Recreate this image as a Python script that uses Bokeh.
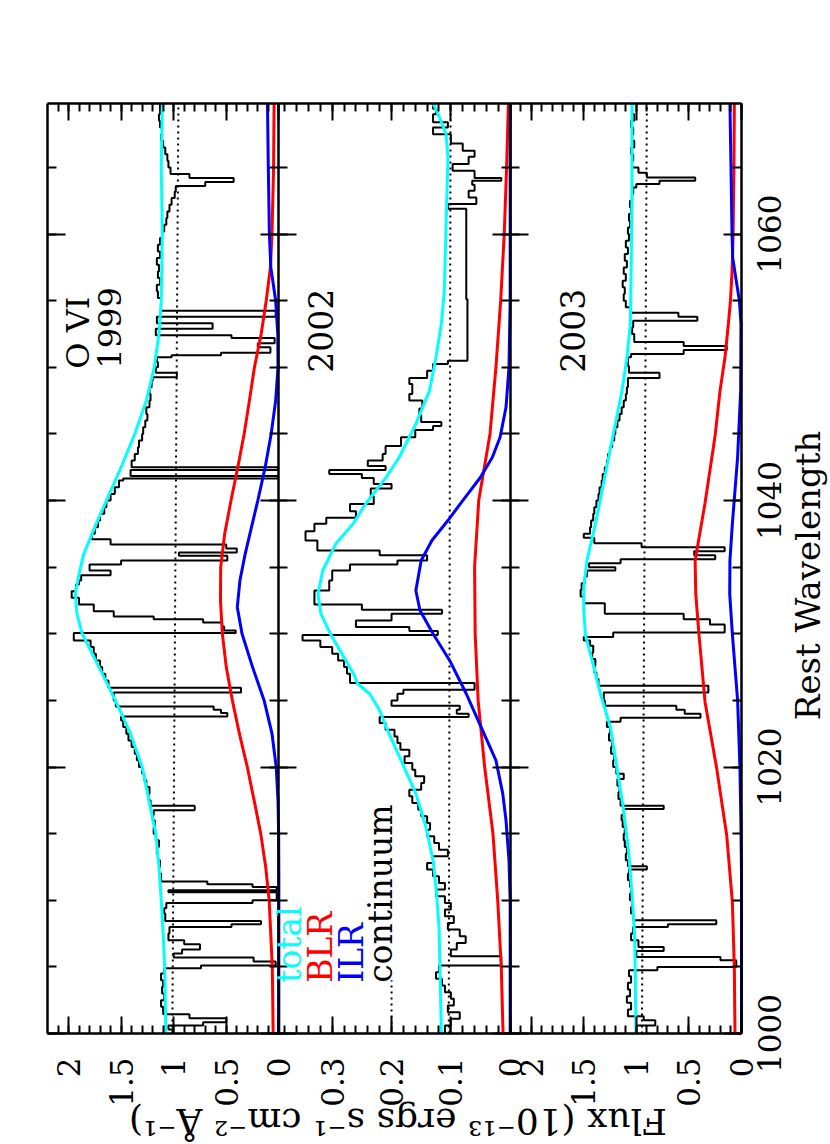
import math
import numpy as np
from bokeh.plotting import figure
from bokeh.models import Range1d, LinearAxis, FixedTicker, CustomJSTickFormatter, Label
from bokeh.core.properties import value
from bokeh.embed import file_html
from bokeh.resources import INLINE

FONT = "DejaVu Serif"

# ---------------- axis limits and ticks ----------------
WL_LO, WL_HI = 1000.0, 1069.8
FMAX_1999 = 2.2
FMAX_2002 = 0.39
FMAX_2003 = 2.2

WL_TICKS = [1000, 1020, 1040, 1060]
WL_MINOR = [1000, 1005, 1010, 1015, 1020, 1025, 1030, 1035, 1040, 1045, 1050, 1055, 1060, 1065]
F_TICKS_BIG = [0, 0.5, 1, 1.5, 2]
F_MINOR_BIG = [0, 0.1, 0.2, 0.3, 0.4, 0.5, 0.6, 0.7, 0.8, 0.9, 1.0, 1.1, 1.2, 1.3, 1.4,
               1.5, 1.6, 1.7, 1.8, 1.9, 2.0, 2.1]
F_TICKS_SMALL = [0, 0.1, 0.2, 0.3]
F_MINOR_SMALL = [0, 0.02, 0.04, 0.06, 0.08, 0.1, 0.12, 0.14, 0.16, 0.18, 0.2, 0.22, 0.24,
                 0.26, 0.28, 0.3, 0.32, 0.34, 0.36, 0.38]

# ---------------- 1999 spectrum (bin start wavelength, flux) ----------------
spec_1999_wl = [1000.0, 1000.3, 1000.6, 1000.85, 1001.15, 1001.45, 1002.0, 1002.5, 1003.0, 1003.5,
                1004.0, 1004.5, 1004.9, 1005.1, 1005.4, 1005.7, 1006.0, 1006.3, 1006.7, 1007.0,
                1007.5, 1008.0, 1008.2, 1008.45, 1009.0, 1009.4, 1009.8, 1010.0, 1010.6, 1010.75,
                1011.0, 1011.2, 1011.4, 1012.0, 1012.5, 1013.0, 1013.5, 1014.0, 1014.5, 1015.0,
                1015.5, 1016.0, 1016.4, 1016.75, 1017.1, 1017.5, 1018.0, 1018.5, 1019.0, 1019.5,
                1020.0, 1020.5, 1021.0, 1021.5, 1022.0, 1022.5, 1023.0, 1023.5, 1023.8, 1024.05,
                1024.3, 1024.55, 1025.0, 1025.6, 1025.95, 1026.5, 1027.0, 1027.5, 1028.0, 1028.5,
                1029.0, 1029.5, 1030.05, 1030.25, 1030.55, 1030.85, 1031.1, 1031.3, 1031.7, 1032.2,
                1032.7, 1033.2, 1033.7, 1034.0, 1034.4, 1034.75, 1035.2, 1035.5, 1035.85, 1036.1,
                1036.4, 1036.7, 1037.1, 1037.5, 1038.0, 1038.5, 1039.0, 1039.5, 1040.0, 1040.5,
                1041.0, 1041.5, 1041.65, 1041.85, 1042.3, 1042.5, 1043.0, 1043.5, 1044.0, 1044.5,
                1045.0, 1045.5, 1046.0, 1046.5, 1047.0, 1047.5, 1048.0, 1048.5, 1049.0, 1049.25,
                1049.6, 1050.0, 1050.4, 1050.75, 1050.9, 1051.1, 1051.5, 1051.8, 1052.2, 1052.4,
                1052.9, 1053.3, 1053.8, 1054.25, 1054.7, 1055.2, 1055.7, 1056.2, 1056.7, 1057.2,
                1057.7, 1058.2, 1058.7, 1059.2, 1059.7, 1060.2, 1060.7, 1061.2, 1061.7, 1062.2,
                1062.7, 1063.2, 1063.6, 1063.9, 1064.2, 1064.5, 1065.0, 1065.5, 1066.0, 1066.5,
                1067.0, 1067.5, 1068.0, 1068.5, 1069.0]
spec_1999_flux = [1.01, 1.05, 0.72, 0.50, 0.85, 1.10, 1.12, 1.09, 1.11, 1.10,
                  1.12, 1.09, 0.74, 0.03, 0.24, 1.00, 0.92, 0.75, 0.90, 1.05,
                  1.04, 0.45, 0.17, 1.08, 1.09, 1.07, 0.25, 0.02, 1.05, 0.02,
                  0.25, 0.68, 1.12, 1.14, 1.13, 1.15, 1.16, 1.14, 1.17, 1.19,
                  1.18, 1.20, 1.19, 0.80, 1.22, 1.24, 1.23, 1.26, 1.28, 1.30,
                  1.33, 1.35, 1.37, 1.40, 1.43, 1.45, 1.48, 1.50, 0.49, 0.55,
                  0.62, 1.55, 1.57, 0.36, 1.62, 1.65, 1.68, 1.70, 1.74, 1.76,
                  1.79, 1.95, 0.41, 0.52, 0.54, 0.72, 1.19, 1.57, 1.76, 1.90,
                  1.97, 1.93, 1.90, 1.88, 1.60, 1.80, 1.50, 0.49, 0.95, 0.40,
                  0.50, 1.60, 1.78, 1.75, 1.72, 1.70, 1.66, 1.64, 1.60, 1.56,
                  1.52, 1.48, 0.01, 1.41, 0.01, 1.40, 1.37, 1.34, 1.33, 1.30,
                  1.29, 1.27, 1.25, 1.26, 1.23, 1.22, 1.23, 1.21, 1.20, 0.97,
                  1.17, 1.15, 1.16, 1.02, 0.55, 0.08, 0.20, 0.04, 0.45, 1.17,
                  0.63, 1.16, 0.03, 1.12, 1.12, 1.15, 1.16, 1.13, 1.15, 1.14,
                  1.16, 1.13, 1.15, 1.13, 1.11, 1.09, 1.07, 1.06, 1.04, 1.02,
                  0.99, 0.98, 0.70, 0.43, 0.85, 1.03, 1.05, 1.06, 1.08, 1.10,
                  1.12, 1.11, 1.13, 1.14, 1.13]

# ---------------- 2002 spectrum ----------------
spec_2002_wl = [1000.0, 1000.6, 1001.1, 1001.6, 1002.1, 1002.6, 1003.1, 1003.6, 1004.1, 1004.6,
                1005.1, 1005.8, 1006.3, 1006.8, 1007.3, 1007.8, 1008.3, 1008.8, 1009.3, 1009.8,
                1010.3, 1010.8, 1011.3, 1011.8, 1012.3, 1012.8, 1013.3, 1013.8, 1014.3, 1014.8,
                1015.3, 1015.8, 1016.3, 1016.8, 1017.3, 1017.8, 1018.3, 1018.8, 1019.3, 1019.8,
                1020.3, 1020.8, 1021.3, 1021.8, 1022.3, 1022.8, 1023.3, 1023.75, 1024.0, 1024.3,
                1024.6, 1025.0, 1025.5, 1025.8, 1026.3, 1027.0, 1027.5, 1028.0, 1028.5, 1029.0,
                1029.5, 1029.9, 1030.2, 1030.5, 1031.0, 1031.5, 1031.8, 1032.2, 1033.25, 1034.0,
                1034.75, 1035.2, 1035.5, 1035.9, 1036.25, 1037.0, 1037.7, 1038.25, 1038.7, 1039.2,
                1039.75, 1040.3, 1040.9, 1041.25, 1041.7, 1042.0, 1042.3, 1042.6, 1043.0, 1043.5,
                1044.1, 1044.75, 1045.3, 1045.6, 1045.9, 1046.4, 1046.9, 1047.5, 1048.0, 1048.75,
                1049.2, 1049.75, 1050.25, 1050.5, 1055.1, 1061.9, 1062.25, 1062.75, 1063.25, 1063.7,
                1064.0, 1064.2, 1064.75, 1065.25, 1065.8, 1066.25, 1066.8, 1067.5, 1068.0, 1068.4,
                1069.0, 1069.4]
spec_2002_flux = [0.110, 0.100, 0.085, 0.105, 0.095, 0.100, 0.110, 0.115, 0.125, 0.120,
                  0.015, 0.100, 0.090, 0.075, 0.085, 0.105, 0.095, 0.110, 0.100, 0.110,
                  0.125, 0.110, 0.120, 0.130, 0.140, 0.130, 0.105, 0.120, 0.128, 0.140,
                  0.135, 0.140, 0.150, 0.155, 0.165, 0.170, 0.150, 0.145, 0.160, 0.165,
                  0.178, 0.170, 0.185, 0.190, 0.195, 0.210, 0.220, 0.070, 0.090, 0.085,
                  0.200, 0.190, 0.180, 0.060, 0.270, 0.275, 0.280, 0.290, 0.300, 0.320,
                  0.350, 0.122, 0.170, 0.260, 0.200, 0.115, 0.250, 0.330, 0.305, 0.300,
                  0.270, 0.190, 0.140, 0.220, 0.325, 0.345, 0.330, 0.310, 0.260, 0.270,
                  0.230, 0.235, 0.200, 0.230, 0.250, 0.305, 0.210, 0.240, 0.215, 0.210,
                  0.184, 0.160, 0.130, 0.116, 0.150, 0.153, 0.148, 0.170, 0.165, 0.170,
                  0.140, 0.130, 0.105, 0.072, 0.074, 0.105, 0.057, 0.070, 0.060, 0.064,
                  0.015, 0.060, 0.097, 0.070, 0.060, 0.080, 0.100, 0.130, 0.105, 0.130,
                  0.125, 0.130]

# ---------------- 2003 spectrum ----------------
spec_2003_wl = [1000.0, 1000.6, 1001.0, 1001.3, 1001.8, 1002.3, 1002.8, 1003.3, 1003.8, 1004.3,
                1004.75, 1005.0, 1005.5, 1005.75, 1006.2, 1006.5, 1007.0, 1007.5, 1008.0, 1008.2,
                1008.5, 1009.0, 1009.5, 1010.0, 1010.5, 1011.0, 1011.5, 1012.0, 1012.3, 1012.55,
                1013.0, 1013.5, 1014.0, 1014.5, 1015.0, 1015.5, 1016.0, 1016.4, 1016.85, 1017.1,
                1017.6, 1018.1, 1018.6, 1019.1, 1019.5, 1020.0, 1020.5, 1021.0, 1021.5, 1022.0,
                1022.5, 1023.0, 1023.4, 1023.7, 1024.0, 1024.3, 1024.6, 1025.0, 1025.6, 1026.1,
                1026.6, 1027.1, 1027.6, 1028.1, 1028.6, 1029.1, 1029.5, 1029.75, 1030.1, 1030.7,
                1031.1, 1031.5, 1032.3, 1032.8, 1033.3, 1033.8, 1034.3, 1034.75, 1035.0, 1035.3,
                1035.6, 1035.9, 1036.2, 1036.5, 1036.8, 1037.2, 1037.5, 1038.0, 1038.5, 1039.0,
                1039.5, 1040.0, 1040.5, 1041.0, 1041.5, 1042.0, 1042.5, 1043.0, 1043.5, 1044.0,
                1044.5, 1045.0, 1045.5, 1046.0, 1046.5, 1047.0, 1047.5, 1048.0, 1048.5, 1049.2,
                1049.6, 1050.1, 1050.75, 1051.0, 1051.3, 1051.6, 1051.9, 1052.5, 1053.0, 1053.5,
                1053.8, 1054.1, 1054.5, 1055.0, 1055.5, 1056.0, 1056.5, 1057.0, 1057.5, 1058.0,
                1058.5, 1059.0, 1059.5, 1060.0, 1060.5, 1061.0, 1061.5, 1062.0, 1062.5, 1063.0,
                1063.5, 1063.75, 1064.0, 1064.25, 1064.6, 1065.0, 1065.5, 1066.0, 1066.5, 1067.0,
                1067.5, 1068.0, 1068.5, 1069.0]
spec_2003_flux = [1.00, 0.82, 0.93, 1.08, 1.05, 1.09, 1.06, 1.08, 1.05, 1.07,
                  0.80, 0.05, 0.20, 1.00, 0.74, 0.98, 1.05, 1.03, 0.70, 0.24,
                  1.03, 1.05, 1.04, 1.06, 1.05, 1.06, 1.08, 1.07, 0.90, 1.08,
                  1.10, 1.09, 1.11, 1.12, 1.11, 1.13, 1.14, 1.12, 0.74, 1.15,
                  1.17, 1.16, 1.18, 1.12, 1.19, 1.22, 1.21, 1.24, 1.23, 1.26,
                  1.25, 1.28, 1.15, 0.39, 0.54, 0.62, 1.30, 1.31, 0.315, 1.36,
                  1.38, 1.40, 1.39, 1.42, 1.41, 1.44, 1.50, 1.22, 0.16, 0.30,
                  0.55, 1.30, 1.50, 1.53, 1.52, 1.49, 1.47, 1.20, 1.45, 1.15,
                  0.25, 0.45, 0.16, 0.95, 1.40, 1.50, 1.44, 1.43, 1.41, 1.40,
                  1.38, 1.36, 1.35, 1.33, 1.32, 1.30, 1.28, 1.27, 1.25, 1.23,
                  1.21, 1.20, 1.18, 1.16, 1.14, 1.12, 1.10, 1.09, 1.08, 0.78,
                  1.07, 1.08, 1.05, 0.55, 0.14, 0.55, 1.02, 1.04, 1.03, 0.42,
                  0.60, 1.05, 1.10, 1.12, 1.11, 1.13, 1.10, 1.12, 1.09, 1.11,
                  1.08, 1.10, 1.07, 1.08, 1.06, 1.07, 1.05, 1.06, 1.04, 1.03,
                  1.00, 0.78, 0.44, 0.90, 0.98, 1.04, 1.03, 1.05, 1.02, 1.04,
                  1.03, 1.05, 1.02, 1.04]

# ---------------- fitted model components ----------------
total_1999_wl = [1000, 1002.5, 1005, 1007.5, 1010, 1012.5, 1015, 1017.5, 1020, 1022.5, 1025, 1027.5,
                 1030, 1031.5, 1033, 1034.5, 1036, 1038, 1040, 1042.5, 1045, 1047.5, 1050, 1052.5,
                 1055, 1060, 1065, 1069.8]
total_1999_flux = [1.075, 1.080, 1.086, 1.100, 1.118, 1.140, 1.170, 1.235, 1.300, 1.410, 1.555, 1.710,
                   1.870, 1.920, 1.935, 1.900, 1.855, 1.750, 1.640, 1.500, 1.370, 1.260, 1.185, 1.140,
                   1.118, 1.108, 1.118, 1.108]
blr_1999_wl = [1000, 1005, 1010, 1012.5, 1015, 1017.5, 1020, 1022.5, 1025, 1027.5, 1030, 1032.5,
               1035, 1037.5, 1040, 1042.5, 1045, 1047.5, 1050, 1052.5, 1055, 1057.5, 1060, 1065, 1069.8]
blr_1999_flux = [0.054, 0.062, 0.092, 0.125, 0.172, 0.235, 0.300, 0.375, 0.442, 0.500, 0.537, 0.555,
                 0.553, 0.515, 0.455, 0.390, 0.330, 0.280, 0.232, 0.168, 0.120, 0.080, 0.065, 0.050, 0.045]
ilr_1999_wl = [1000, 1012, 1015, 1017.5, 1020, 1022.5, 1025, 1027.5, 1030, 1032, 1034, 1036, 1038,
               1040, 1042.5, 1045, 1047.5, 1050, 1052.5, 1055, 1057.5, 1060, 1065, 1069.8]
ilr_1999_flux = [0.0, 0.0, 0.002, 0.008, 0.025, 0.065, 0.140, 0.250, 0.350, 0.395, 0.370, 0.320, 0.260,
                 0.200, 0.130, 0.073, 0.030, 0.008, 0.010, 0.030, 0.076, 0.090, 0.100, 0.108]
cont_1999_wl = [1000, 1069.8]
cont_1999_flux = [1.013, 0.955]

total_2002_wl = [1000, 1004.25, 1008, 1010.5, 1013, 1015.5, 1018, 1020.5, 1023, 1024.25, 1025.5, 1026.25,
                 1027, 1028, 1029.9, 1031.5, 1033, 1034.75, 1036.75, 1038.25, 1039.8, 1041.75, 1043.25,
                 1045.75, 1048.25, 1050.75, 1053.25, 1055.75, 1060.75, 1065.75, 1067.5, 1068.75, 1069.8]
total_2002_flux = [0.116, 0.118, 0.120, 0.124, 0.130, 0.142, 0.159, 0.184, 0.209, 0.220, 0.237, 0.257,
                   0.264, 0.277, 0.302, 0.319, 0.324, 0.316, 0.294, 0.265, 0.243, 0.209, 0.187,
                   0.159, 0.136, 0.125, 0.116, 0.111, 0.108, 0.105, 0.108, 0.119, 0.130]
blr_2002_wl = [1000, 1005, 1010, 1015, 1020, 1025, 1030, 1035, 1040, 1045, 1050, 1055, 1060, 1065, 1069.8]
blr_2002_flux = [0.012, 0.015, 0.021, 0.029, 0.043, 0.054, 0.059, 0.060, 0.053, 0.034, 0.024, 0.016,
                 0.010, 0.006, 0.003]
ilr_2002_wl = [1000, 1010, 1013, 1016, 1018, 1020.5, 1023, 1025.5, 1028, 1030, 1031.75, 1033.25, 1035.5,
               1037, 1038.5, 1040, 1041.75, 1043.25, 1044.75, 1047, 1050, 1055, 1069.8]
ilr_2002_flux = [0.0, 0.0, 0.002, 0.007, 0.0125, 0.024, 0.049, 0.074, 0.102, 0.130, 0.152, 0.159, 0.150,
                 0.132, 0.105, 0.080, 0.050, 0.030, 0.017, 0.007, 0.002, 0.0, 0.0]
cont_2002_wl = [1000, 1069.8]
cont_2002_flux = [0.1035, 0.1005]

total_2003_wl = [1000, 1004.25, 1007.4, 1010.5, 1013.6, 1016.75, 1019.9, 1023, 1025.5, 1028, 1029.9,
                 1031.75, 1033.5, 1035.5, 1038.25, 1043.25, 1048.25, 1050.75, 1053.25, 1058.25, 1063.25,
                 1069.8]
total_2003_flux = [1.004, 1.010, 1.016, 1.042, 1.073, 1.121, 1.184, 1.247, 1.342, 1.421, 1.484,
                   1.500, 1.500, 1.470, 1.389, 1.263, 1.136, 1.089, 1.057, 1.048, 1.042,
                   1.042]
blr_2003_wl = [1000, 1004.9, 1009.9, 1014.9, 1019.9, 1024.9, 1029.9, 1033, 1035.5, 1039.8, 1044.8,
               1048.25, 1050.75, 1053.25, 1055, 1057.5, 1060, 1065, 1069.8]
blr_2003_flux = [0.062, 0.068, 0.087, 0.141, 0.236, 0.347, 0.404, 0.435, 0.441, 0.347, 0.252,
                 0.204, 0.157, 0.125, 0.105, 0.088, 0.080, 0.072, 0.068]
ilr_2003_wl = [1000, 1012, 1016, 1020, 1025, 1030, 1033, 1035.5, 1038.25, 1043.25, 1048.25, 1053.25,
               1055, 1057, 1058.25, 1060, 1065, 1069.8]
ilr_2003_flux = [0.0, 0.0, 0.006, 0.015, 0.037, 0.087, 0.112, 0.110, 0.087, 0.037, 0.008, 0.005,
                 0.020, 0.060, 0.084, 0.090, 0.100, 0.110]
cont_2003_wl = [1000, 1069.8]
cont_2003_flux = [0.947, 0.900]

# ---------------- page geometry (pixels) ----------------
PAGE_W, PAGE_H = 830, 1144
BOX_L, BOX_T, BOX_W, BOX_H = 47, 103, 694, 930     # plotting box inside the page
PANEL_W = BOX_W / 3
PPA = BOX_H / (WL_HI - WL_LO)                        # pixels per Angstrom


# The plot frame covers the whole page so that every label can sit outside the box.
# Each panel (drawn rotated) has its own linear flux scale; flux increases to the left.
def panel_range(k, fmax):
    left = BOX_L + k * PANEL_W
    right = left + PANEL_W
    ppu = PANEL_W / fmax
    return Range1d(fmax + left / ppu, -(PAGE_W - right) / ppu)


x1 = panel_range(0, FMAX_1999)
x2 = panel_range(1, FMAX_2002)
x3 = panel_range(2, FMAX_2003)
y_wl = Range1d(WL_LO - (PAGE_H - BOX_T - BOX_H) / PPA, WL_HI + BOX_T / PPA)


def p3_at(px):
    """2003-panel flux value at horizontal page pixel px"""
    return x3.start + px / PAGE_W * (x3.end - x3.start)


def p2_at(px):
    return x2.start + px / PAGE_W * (x2.end - x2.start)


def wl_at(py):
    return y_wl.end - py / PAGE_H * (y_wl.end - y_wl.start)


p = figure(width=PAGE_W, height=PAGE_H, min_border=0,
           x_range=x1, y_range=y_wl,
           x_axis_location=None, y_axis_location=None,
           toolbar_location=None, output_backend="svg")
p.extra_x_ranges = {"p2": x2, "p3": x3}
p.xgrid.visible = False
p.ygrid.visible = False
p.outline_line_color = None
p.background_fill_color = "white"
p.border_fill_color = "white"

num_fmt = "return String(Math.round(tick * 100) / 100);"


# flux axes: bottom (ticks + labels) and top (ticks) edge of each panel
def flux_axis(rng_name, fmax, ticks, minor, side):
    ax = LinearAxis(x_range_name=rng_name,
                    fixed_location=(WL_LO if side == "below" else WL_HI),
                    ticker=FixedTicker(ticks=ticks, minor_ticks=minor))
    ax.bounds = (0, fmax)
    ax.axis_line_color = "black"
    ax.axis_line_width = 2.5
    ax.major_tick_in = 17
    ax.major_tick_out = 0
    ax.minor_tick_in = 8
    ax.minor_tick_out = 0
    ax.major_tick_line_width = 2
    ax.minor_tick_line_width = 2
    if side == "below":
        ax.formatter = CustomJSTickFormatter(code=num_fmt)
        ax.major_label_orientation = math.pi / 2
        ax.major_label_standoff = 24
        ax.major_label_text_font = FONT
        ax.major_label_text_font_size = "31px"
        ax.major_label_text_color = "black"
    else:
        ax.formatter = CustomJSTickFormatter(code="return '';")
        ax.major_label_text_font_size = "0px"
    p.add_layout(ax, side)


for rng_name, fmax, tk, mn in (("default", FMAX_1999, F_TICKS_BIG, F_MINOR_BIG),
                               ("p2", FMAX_2002, F_TICKS_SMALL, F_MINOR_SMALL),
                               ("p3", FMAX_2003, F_TICKS_BIG, F_MINOR_BIG)):
    flux_axis(rng_name, fmax, tk, mn, "below")
    flux_axis(rng_name, fmax, tk, mn, "above")


# wavelength axes: box edges and the two panel boundaries
def wl_axis(rng_name, loc, side, t_in, t_out):
    ax = LinearAxis(x_range_name=rng_name, fixed_location=loc,
                    ticker=FixedTicker(ticks=WL_TICKS, minor_ticks=WL_MINOR))
    ax.bounds = (WL_LO, WL_HI)
    ax.axis_line_color = "black"
    ax.axis_line_width = 2.5
    ax.major_tick_in = t_in
    ax.major_tick_out = t_out
    ax.minor_tick_in = t_in // 2
    ax.minor_tick_out = t_out // 2
    ax.major_tick_line_width = 2
    ax.minor_tick_line_width = 2
    ax.formatter = CustomJSTickFormatter(code="return '';")
    ax.major_label_text_font_size = "0px"
    p.add_layout(ax, side)


wl_axis("default", FMAX_1999, "left", 18, 0)       # left edge of the box
wl_axis("default", 0.0, "left", 18, 18)             # 1999 | 2002 boundary
wl_axis("p3", FMAX_2003, "left", 18, 18)            # 2002 | 2003 boundary
wl_axis("p3", 0.0, "right", 18, 0)                  # right edge of the box


def step_path(starts, fluxes, end):
    s = np.asarray(starts, dtype=float)
    f = np.asarray(fluxes, dtype=float)
    e = np.append(s[1:], end)
    return np.repeat(f, 2), np.column_stack([s, e]).ravel()


panels = [
    ("default", spec_1999_wl, spec_1999_flux, total_1999_wl, total_1999_flux, blr_1999_wl, blr_1999_flux,
     ilr_1999_wl, ilr_1999_flux, cont_1999_wl, cont_1999_flux),
    ("p2", spec_2002_wl, spec_2002_flux, total_2002_wl, total_2002_flux, blr_2002_wl, blr_2002_flux,
     ilr_2002_wl, ilr_2002_flux, cont_2002_wl, cont_2002_flux),
    ("p3", spec_2003_wl, spec_2003_flux, total_2003_wl, total_2003_flux, blr_2003_wl, blr_2003_flux,
     ilr_2003_wl, ilr_2003_flux, cont_2003_wl, cont_2003_flux),
]

for (rng_name, swl, sfx, twl, tfx, bwl, bfx, iwl, ifx, cwl, cfx) in panels:
    p.line(cfx, cwl, x_range_name=rng_name, line_color="black", line_width=2, line_dash="2 4")
    xs, ys = step_path(swl, sfx, WL_HI)
    p.line(xs, ys, x_range_name=rng_name, line_color="black", line_width=2)
    p.line(bfx, bwl, x_range_name=rng_name, line_color="#ff0000", line_width=3)
    p.line(ifx, iwl, x_range_name=rng_name, line_color="#0000ff", line_width=3)
    p.line(tfx, twl, x_range_name=rng_name, line_color="#00ffff", line_width=3)

# legend sample line for the continuum
legend_cont_wl = [1000.75, 1004.0]
legend_cont_flux = [0.2, 0.2]
p.line(legend_cont_flux, legend_cont_wl, x_range_name="p2", line_color="black", line_width=2,
       line_dash="2 4")


def vlabel(text, x, y, rng_name, size, color="black"):
    p.add_layout(Label(x=x, y=y, x_range_name=rng_name, text=text, angle=math.pi / 2, angle_units="rad",
                       text_align="left", text_baseline="alphabetic", text_font=FONT,
                       text_font_size=size, text_color=color))


vlabel("O VI", 1.91, 1049.9, "default", "32px")
vlabel("1999", 1.61, 1049.9, "default", "32px")
vlabel("2002", 0.319, 1049.6, "p2", "33px")
vlabel("2003", 1.607, 1049.6, "p3", "33px")
vlabel("total", 0.372, 1003.8, "p2", "33px", color="#00ffff")
vlabel("BLR", 0.320, 1003.8, "p2", "33px", color="#ff0000")
vlabel("ILR", 0.268, 1003.8, "p2", "33px", color="#0000ff")
vlabel("continuum", 0.219, 1003.8, "p2", "33px")

# wavelength tick labels (centred on the ticks, reading upwards)
p.text(x=[p3_at(769)] * len(WL_TICKS), y=WL_TICKS, text=[str(v) for v in WL_TICKS],
       x_range_name="p3", angle=math.pi / 2, text_align="center", text_baseline="middle",
       text_font=value(FONT), text_font_size="31px", text_color="black")

# axis titles
p.add_layout(Label(x=p3_at(807), y=wl_at(575), x_range_name="p3", text="Rest Wavelength",
                   angle=math.pi / 2, text_align="center", text_baseline="middle", text_font=FONT,
                   text_font_size="34px", text_color="black"))
p.add_layout(Label(x=p2_at(397.5), y=wl_at(1121), x_range_name="p2",
                   text="Flux (10\u207b\u00b9\u00b3 ergs s\u207b\u00b9 cm\u207b\u00b2 \u00c5\u207b\u00b9)",
                   angle=math.pi, text_align="center", text_baseline="middle", text_font=FONT,
                   text_font_size="36px", text_color="black"))

open("out.html", "w").write(file_html(p, INLINE))
